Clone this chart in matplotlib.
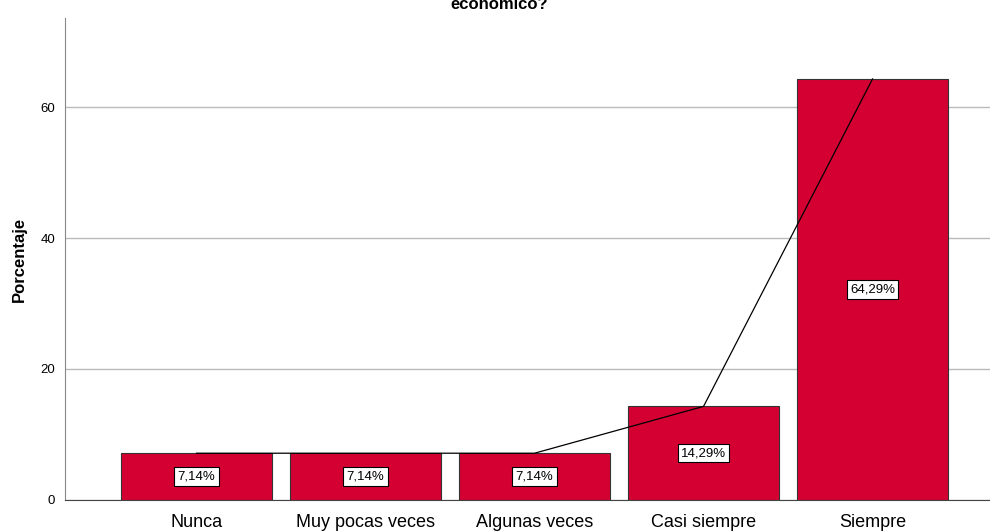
import matplotlib.pyplot as plt
import numpy as np

plt.rcParams['font.family'] = ['Liberation Sans', 'DejaVu Sans']

categorias = ['Nunca', 'Muy pocas veces', 'Algunas veces', 'Casi siempre', 'Siempre']
porcentajes = [7.14, 7.14, 7.14, 14.29, 64.29]
etiquetas = ['7,14%', '7,14%', '7,14%', '14,29%', '64,29%']

fig = plt.figure(figsize=(9.9, 5.32), dpi=100)
ax = fig.add_axes([0.0657, 0.0602, 0.9343, 0.906])

x = np.arange(len(categorias))
ax.bar(x, porcentajes, width=0.89, color='#D50032', edgecolor='#333333', linewidth=0.8, zorder=2)
ax.plot(x, porcentajes, color='black', linewidth=0.9, zorder=3)

for xi, v, lab in zip(x, porcentajes, etiquetas):
    ax.text(xi, v / 2, lab, ha='center', va='center', fontsize=9.5, zorder=4,
            bbox=dict(boxstyle='square,pad=0.25', facecolor='white', edgecolor='black', linewidth=0.8))

ax.set_xlim(-0.778, 4.695)
ax.set_ylim(0, 73.6)
ax.set_yticks([0, 20, 40, 60])
ax.yaxis.grid(True, color='#bbbbbb', linewidth=1)
ax.set_axisbelow(True)
ax.set_xticks(x)
ax.set_xticklabels(categorias, fontsize=13)
ax.tick_params(axis='y', labelsize=9.5, length=0, pad=7)
ax.tick_params(axis='x', length=0, pad=10)

for s in ['top', 'right']:
    ax.spines[s].set_visible(False)
ax.spines['left'].set_color('#888888')
ax.spines['bottom'].set_color('#444444')

ax.set_ylabel('Porcentaje', fontsize=12, fontweight='bold', labelpad=10)

fig.text(0.504, 0.992, 'económico?', ha='center', va='center', fontsize=12, fontweight='bold')

fig.savefig('out.png', dpi=100)
